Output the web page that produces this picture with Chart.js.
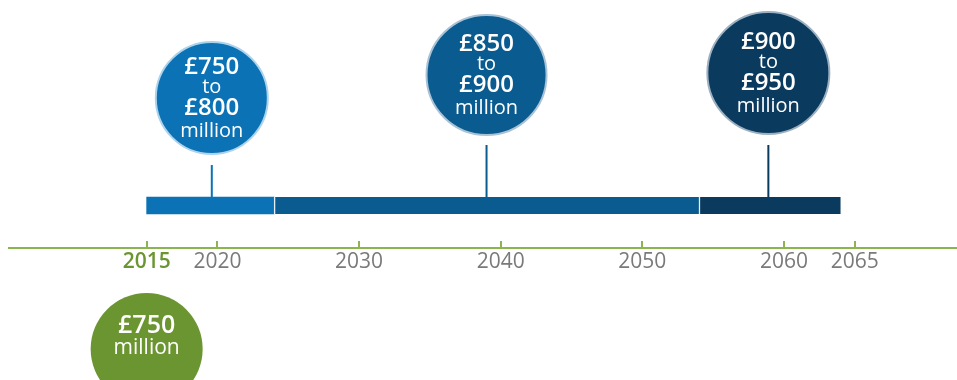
<!DOCTYPE html>
<html>
<head>
<meta charset="utf-8">
<script src="https://cdn.jsdelivr.net/npm/chart.js@4"></script>
<style>
  html, body { margin: 0; padding: 0; background: #ffffff; overflow: hidden; }
  #wrap { width: 957px; height: 380px; }
</style>
</head>
<body>
<div id="wrap"><canvas id="timeline" width="957" height="380"></canvas></div>
<script>
// Timeline periods and their cost ranges
const periodStart = [2015, 2024, 2054];
const periodEnd = [2024, 2054, 2064];
const rangeLow = ['£750', '£850', '£900'];
const rangeHigh = ['£800', '£900', '£950'];
const markerYears = [2019.6, 2039, 2058.9];
const tickYears = [2015, 2020, 2030, 2040, 2050, 2060, 2065];
const baseYear = 2015;
const baseValue = '£750';

// Vertical levels, in units of the hidden y scale (pixels above the timeline axis)
const BAR_LEVEL = 42.5;
const BAR_TOP = 51;
const STEM_TOP = [83, 103, 103];
const BUBBLE_LEVEL = [150, 173, 175];
const BASE_LEVEL = -101;
const BUBBLE_RADIUS = [56, 60, 61];
const BASE_RADIUS = 56;

// Styling
const periodColors = ['#0b72b5', '#0a5b8f', '#0a3a5d'];
const ringColors = ['#acd2ec', '#a9c2d6', '#9cb0c1'];
const GREEN = '#6b9530';
const AXIS_GREEN = '#8ab54f';
const LABEL_GREY = '#7a7a7a';
const FONT = '"Open Sans", "Noto Sans", sans-serif';

// Writes the amounts inside each bubble
const bubbleText = {
  id: 'bubbleText',
  afterDatasetsDraw(chart) {
    const ctx = chart.ctx;
    const n = chart.data.datasets.length;
    const bubbles = chart.getDatasetMeta(n - 2).data;
    ctx.save();
    ctx.fillStyle = '#ffffff';
    ctx.textAlign = 'center';
    ctx.textBaseline = 'alphabetic';
    bubbles.forEach((pt, i) => {
      const lines = [
        [rangeLow[i], '600 24px', -24.5],
        ['to', '20px', -5],
        [rangeHigh[i], '600 24px', 17],
        ['million', '20px', 39]
      ];
      lines.forEach(([txt, f, dy]) => {
        ctx.font = f + ' ' + FONT;
        ctx.fillText(txt, pt.x, pt.y + dy);
      });
    });
    const base = chart.getDatasetMeta(n - 1).data[0];
    ctx.font = '600 25px ' + FONT;
    ctx.fillText(baseValue, base.x, base.y - 16.5);
    ctx.font = '21px ' + FONT;
    ctx.fillText('million', base.x, base.y + 5);
    ctx.restore();
  }
};

const datasets = [
  {
    type: 'bar',
    indexAxis: 'y',
    data: periodStart.map((s, i) => ({ x: [s, periodEnd[i]], y: BAR_LEVEL })),
    backgroundColor: periodColors,
    borderColor: '#e3eef6',
    borderWidth: (c) => c.dataIndex > 0 ? { left: 1.5, right: 0, top: 0, bottom: 0 } : 0,
    borderSkipped: false,
    barThickness: 17,
    grouped: false,
    order: 3
  },
  ...markerYears.map((yr, i) => ({
    type: 'line',
    data: [{ x: yr, y: BAR_TOP }, { x: yr, y: STEM_TOP[i] }],
    borderColor: periodColors[i],
    borderWidth: 2,
    pointRadius: 0,
    order: 2
  })),
  {
    type: 'scatter',
    data: markerYears.map((yr, i) => ({ x: yr, y: BUBBLE_LEVEL[i] })),
    pointRadius: BUBBLE_RADIUS,
    pointHoverRadius: BUBBLE_RADIUS,
    backgroundColor: periodColors,
    borderColor: ringColors,
    borderWidth: 2,
    clip: false,
    order: 1
  },
  {
    type: 'scatter',
    data: [{ x: baseYear, y: BASE_LEVEL }],
    pointRadius: BASE_RADIUS,
    pointHoverRadius: BASE_RADIUS,
    backgroundColor: GREEN,
    borderWidth: 0,
    clip: false,
    order: 1
  }
];

new Chart(document.getElementById('timeline'), {
  type: 'scatter',
  data: { datasets },
  options: {
    responsive: false,
    animation: false,
    events: [],
    layout: { autoPadding: false, padding: { left: 9, right: 0, top: 0, bottom: 0 } },
    plugins: { legend: { display: false }, tooltip: { enabled: false } },
    scales: {
      x: {
        type: 'linear',
        position: { y: 0 },
        offset: false,
        min: 2005.28,
        max: 2072.22,
        afterBuildTicks: (s) => { s.ticks = tickYears.map(v => ({ value: v })); },
        afterFit: (s) => { s.height = 0; },
        grid: { drawOnChartArea: false, drawTicks: true, tickLength: -8, color: AXIS_GREEN, lineWidth: 2 },
        border: { display: true, color: AXIS_GREEN, width: 2 },
        ticks: {
          autoSkip: false,
          maxRotation: 0,
          padding: 9,
          color: (c) => (c.tick && c.tick.value === baseYear) ? GREEN : LABEL_GREY,
          font: (c) => ({ family: FONT, size: 21, weight: (c.tick && c.tick.value === baseYear) ? '600' : 'normal' }),
          callback: (v) => String(v)
        }
      },
      y: { type: 'linear', display: false, offset: false, min: -132, max: 248 }
    }
  },
  plugins: [bubbleText]
});
</script>
</body>
</html>
